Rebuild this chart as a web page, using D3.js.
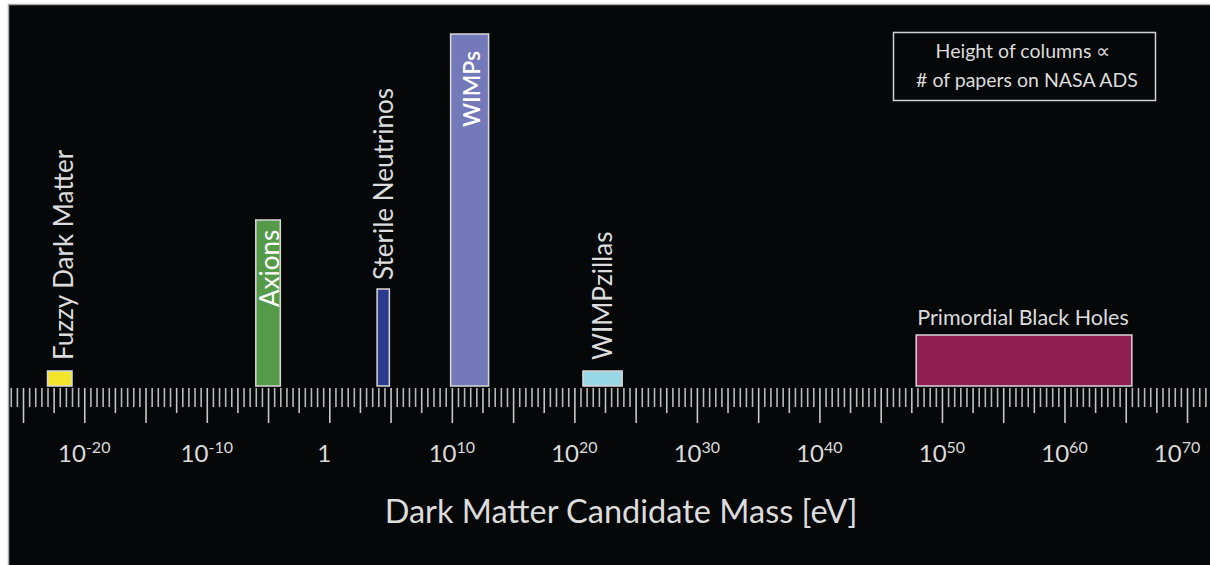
<!DOCTYPE html>
<html lang="en">
<head>
  <meta charset="UTF-8">
  <title>dark matter candidates</title>
  <style>
    body { margin: 0; background: #fff; }
    svg { display: block; }
    text { font-family: Lato, "Open Sans", sans-serif; }
  </style>
</head>
<body>
<script src="https://cdn.jsdelivr.net/npm/d3@7"></script>
<script>
  // candidates: mass range (log10 eV) and relative paper count
  var names = ['Fuzzy Dark Matter', 'Axions', 'Sterile Neutrinos', 'WIMPs', 'WIMPzillas', 'Primordial Black Holes']
  var massLo = [-23, -6, 3.9, 9.9, 20.7, 47.9]
  var massHi = [-21, -4, 4.9, 13, 23.9, 65.5]
  var papers = [150, 1660, 970, 3520, 150, 510]
  var colors = ['#f3e42c', '#559a48', '#2c3a8e', '#7479ba', '#98d7e6', '#8e1f50']
  var labelDecades = [-20, -10, 0, 10, 20, 30, 40, 50, 60, 70]

  var width = 1210
  var height = 565
  var base = 386

  var svg = d3.select('body').append('svg')
    .attr('width', width)
    .attr('height', height)

  // black panel with thin grey edge top/left
  svg.append('rect')
    .attr('x', 8).attr('y', 4)
    .attr('width', width - 8).attr('height', height - 4)
    .attr('fill', '#050708')
  svg.append('path')
    .attr('d', 'M8.5,' + height + 'V4.5H' + width)
    .attr('fill', 'none')
    .attr('stroke', '#a8a8a8')
    .attr('stroke-width', 1.5)

  var x = d3.scaleLog()
    .domain([1e-25, 1e70])
    .range([23, 1187])
  var y = d3.scaleLinear()
    .domain([0, 3520])
    .range([base, 34])

  // tick marks: every half decade short, every 2.5 decades medium, every 5 long
  var all = d3.range(-26, 72, 0.5)
  var longT = all.filter(d => d % 5 === 0)
  var midT = all.filter(d => d % 5 !== 0 && d % 2.5 === 0)
  var shortT = all.filter(d => d % 2.5 !== 0)

  function tickRow(vals, len, col) {
    var g = svg.append('g')
      .attr('transform', 'translate(0,' + (base + 2) + ')')
      .call(d3.axisBottom(x).tickValues(vals.map(d => Math.pow(10, d))).tickSize(len).tickFormat(''))
    g.select('.domain').remove()
    g.selectAll('line').attr('stroke', col).attr('stroke-width', 1.6)
  }
  tickRow(shortT, 19, '#b8b8b8')
  tickRow(midT, 25, '#c4c4c4')
  tickRow(longT, 35, '#c8c8c8')

  // decade labels with superscripts
  var lab = svg.append('g').selectAll('text')
    .data(labelDecades)
    .enter()
    .append('text')
    .attr('x', d => Math.min(x(Math.pow(10, d)), 1177))
    .attr('y', 462)
    .attr('text-anchor', 'middle')
    .attr('fill', '#dcdcdc')
    .style('font-size', '24px')
  lab.each(function(d) {
    var t = d3.select(this)
    if (d === 0) { t.attr('x', x(1) - 5).text('1'); return }
    t.append('tspan').text('10')
    t.append('tspan').attr('dy', -9).style('font-size', '16px').text(d)
  })

  svg.append('text')
    .attr('x', 621).attr('y', 523)
    .attr('text-anchor', 'middle')
    .attr('fill', '#dcdcdc')
    .style('font-size', '32.5px')
    .text('Dark Matter Candidate Mass [eV]')

  // columns
  var idx = d3.range(names.length)
  svg.append('g').selectAll('rect')
    .data(idx)
    .enter()
    .append('rect')
    .attr('x', i => x(Math.pow(10, massLo[i])))
    .attr('y', i => y(papers[i]))
    .attr('width', i => x(Math.pow(10, massHi[i])) - x(Math.pow(10, massLo[i])))
    .attr('height', i => base - y(papers[i]))
    .attr('fill', i => colors[i])
    .attr('stroke', '#d8d8d8')
    .attr('stroke-width', 1.5)

  // labels: rotated above the short ones, inside the tall ones, flat for PBH
  var inside = [false, true, false, true, false, false]
  var baseX = [73, 278.5, 393, 480, 612, 0]
  var lbl = svg.append('g').selectAll('text')
    .data(idx)
    .enter()
    .append('text')
    .attr('fill', i => inside[i] ? '#ffffff' : '#dcdcdc')
    .style('font-size', i => i === 3 ? '23px' : (i === 5 ? '21.5px' : '26px'))
    .style('font-weight', i => i === 3 ? 600 : 400)
    .text(i => names[i])
  lbl.filter(i => i !== 5)
    .attr('transform', function(i) {
      var top = y(papers[i])
      var startY
      if (i === 1) startY = top + 87
      else if (i === 3) startY = top + 93
      else if (i === 2) startY = top - 9
      else startY = top - 11
      return 'translate(' + baseX[i] + ',' + startY + ') rotate(-90)'
    })
  lbl.filter(i => i === 5)
    .attr('x', i => x(Math.pow(10, massLo[i])) + 1)
    .attr('y', i => y(papers[i]) - 10)

  // legend box
  svg.append('rect')
    .attr('x', 893.5).attr('y', 32.5)
    .attr('width', 262).attr('height', 68)
    .attr('fill', 'none')
    .attr('stroke', '#d0d0d0')
    .attr('stroke-width', 1.5)
  svg.append('text')
    .attr('x', 1023).attr('y', 58)
    .attr('text-anchor', 'middle')
    .attr('fill', '#dcdcdc')
    .style('font-size', '19.5px')
    .text('Height of columns \u221D')
  svg.append('text')
    .attr('x', 1027).attr('y', 87)
    .attr('text-anchor', 'middle')
    .attr('fill', '#dcdcdc')
    .style('font-size', '19.5px')
    .text('# of papers on NASA ADS')
</script>
</body>
</html>
